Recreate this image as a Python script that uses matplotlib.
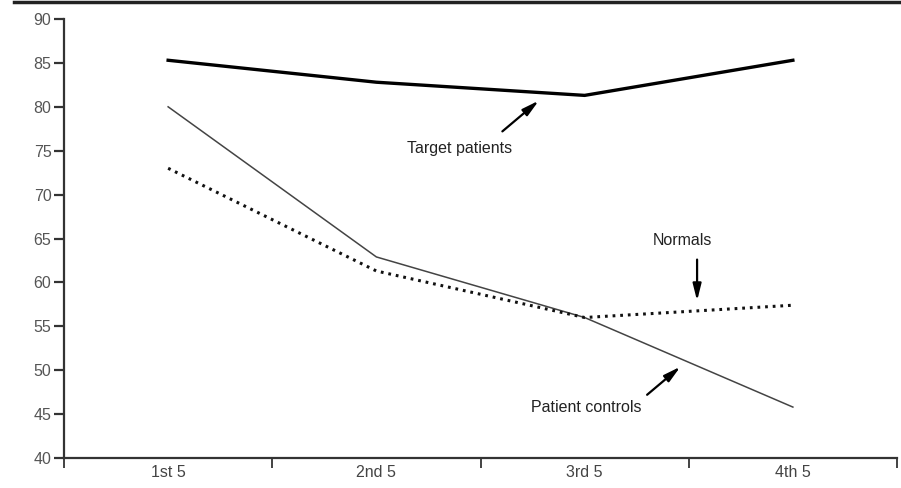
import matplotlib
matplotlib.use("Agg")
import matplotlib.pyplot as plt
from matplotlib.lines import Line2D

categories = ["1st 5", "2nd 5", "3rd 5", "4th 5"]
target_patients = [85.3, 82.8, 81.3, 85.3]
patient_controls = [80.0, 62.9, 56.0, 45.8]
normals = [73.0, 61.3, 56.0, 57.4]
yticks = [40, 45, 50, 55, 60, 65, 70, 75, 80, 85, 90]

plt.rcParams['font.family'] = ['Liberation Sans', 'DejaVu Sans']

fig = plt.figure(figsize=(9.01, 4.88), dpi=100)
ax = fig.add_axes([64/901, 30/488, (897-64)/901, (469-30)/488])

x = list(range(len(categories)))
ax.plot(x, target_patients, color='black', lw=2.4)
ax.plot(x, patient_controls, color='#444444', lw=1.1)
ax.plot(x, normals, color='#111111', lw=2.2, linestyle=(0, (0.9, 1.6)))

ax.set_xlim(-0.5, len(categories) - 0.5)
ax.set_ylim(40, 90)
ax.set_yticks(yticks)
ax.set_yticklabels([str(v) for v in yticks])
ax.set_xticks([i - 0.5 for i in range(len(categories) + 1)])
ax.set_xticklabels([])
ax.set_xticks(x, minor=True)
ax.set_xticklabels(categories, minor=True)
ax.tick_params(axis='x', which='minor', length=0, pad=5, labelsize=11.5, labelcolor='#444444')
ax.tick_params(axis='x', which='major', length=7, width=1.2, direction='out', color='#222222')
ax.tick_params(axis='y', length=7, width=1.6, direction='out', labelsize=11.5, labelcolor='#555555', color='#333333', pad=2)

for s in ['top', 'right']:
    ax.spines[s].set_visible(False)
for s in ['left', 'bottom']:
    ax.spines[s].set_linewidth(1.6)
    ax.spines[s].set_color('#333333')

arrow = dict(arrowstyle='-|>,head_length=1.0,head_width=0.25', color='black', lw=1.6,
             shrinkA=0, shrinkB=0)

ax.text(1.40, 75.3, "Target patients", ha='center', va='center', fontsize=11.5, color='#222222')
ax.annotate("", xy=(1.78, 80.7), xytext=(1.605, 77.2), arrowprops=dict(arrow))

ax.text(2.47, 64.8, "Normals", ha='center', va='center', fontsize=11.5, color='#222222')
ax.annotate("", xy=(2.54, 57.9), xytext=(2.54, 62.6), arrowprops=dict(arrow))

ax.text(2.01, 45.8, "Patient controls", ha='center', va='center', fontsize=11.5, color='#222222')
ax.annotate("", xy=(2.46, 50.4), xytext=(2.30, 47.2), arrowprops=dict(arrow))

fig.add_artist(Line2D([0.015, 1.0], [1 - 2/488, 1 - 2/488], color='#222222', lw=2.5,
                      transform=fig.transFigure))

fig.savefig("out.png", dpi=100)
